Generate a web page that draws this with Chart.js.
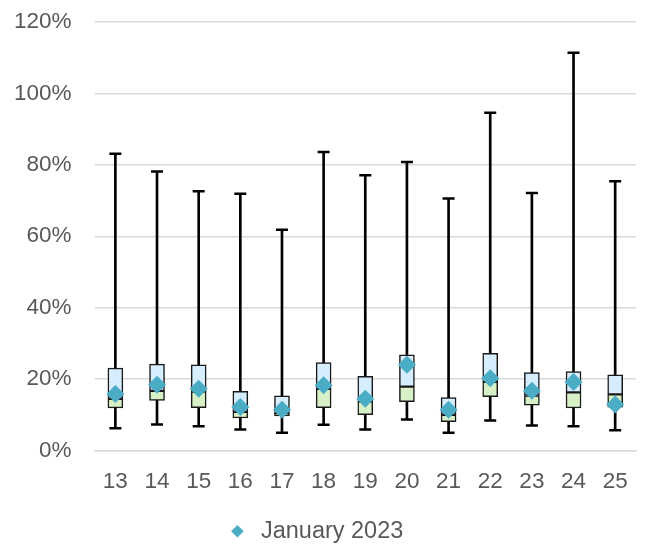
<!DOCTYPE html>
<html>
<head>
<meta charset="utf-8">
<script src="https://cdn.jsdelivr.net/npm/chart.js@4.4.1/dist/chart.umd.min.js"></script>
<style>
    html, body { margin: 0; padding: 0; background: #ffffff; }
    #wrap { width: 646px; height: 545px; }
</style>
</head>
<body>
<div id="wrap"><canvas id="boxChart"></canvas></div>
<script>
// Categories and values (percent)
const labels = ['13', '14', '15', '16', '17', '18', '19', '20', '21', '22', '23', '24', '25'];
const minVals = [6.2, 7.3, 6.8, 5.9, 5.0, 7.2, 5.9, 8.7, 5.0, 8.4, 7.0, 6.8, 5.7];
const q1Vals = [11.9, 14.0, 12.0, 9.1, 9.7, 12.0, 10.0, 13.7, 8.1, 15.1, 12.7, 11.9, 12.1];
const medianVals = [14.5, 16.7, 16.5, 10.8, 10.3, 17.3, 13.8, 17.9, 10.0, 19.2, 15.4, 16.3, 15.7];
const q3Vals = [23.1, 24.2, 24.0, 16.6, 15.3, 24.6, 20.8, 26.8, 14.8, 27.2, 21.8, 22.1, 21.2];
const maxVals = [83.1, 78.1, 72.6, 71.9, 61.8, 83.6, 77.1, 80.8, 70.6, 94.6, 72.1, 111.4, 75.4];
const jan2023 = [15.8, 18.4, 17.3, 12.2, 11.4, 18.3, 14.5, 24.0, 11.4, 20.2, 16.7, 19.2, 12.9];
const yTicks = [0, 20, 40, 60, 80, 100, 120];

const textColor = '#595959';
const gridColor = '#d9d9d9';
const fontFamily = '"Liberation Sans", Arial, sans-serif';

document.addEventListener('DOMContentLoaded', function() {
    const ctx = document.getElementById('boxChart').getContext('2d');

    new Chart(ctx, {
        type: 'bar',
        data: {
            labels: labels,
            datasets: [
                {
                    label: 'January 2023',
                    type: 'line',
                    data: jan2023,
                    showLine: false,
                    pointStyle: 'rectRot',
                    pointRadius: 9,
                    pointBackgroundColor: '#4bacc6',
                    pointBorderColor: '#4bacc6',
                    pointBorderWidth: 0,
                    backgroundColor: '#4bacc6',
                    borderColor: '#4bacc6',
                    order: 1
                },
                {
                    label: 'max',
                    type: 'line',
                    data: maxVals,
                    showLine: false,
                    pointStyle: 'line',
                    pointRadius: 6,
                    pointBorderWidth: 2.5,
                    pointBorderColor: '#000000',
                    order: 2
                },
                {
                    label: 'min',
                    type: 'line',
                    data: minVals,
                    showLine: false,
                    pointStyle: 'line',
                    pointRadius: 6,
                    pointBorderWidth: 2.5,
                    pointBorderColor: '#000000',
                    order: 2
                },
                {
                    label: 'upper',
                    data: labels.map((_, i) => [medianVals[i], q3Vals[i]]),
                    backgroundColor: '#d5edfc',
                    borderColor: '#1a1a1a',
                    borderWidth: 1.5,
                    borderSkipped: false,
                    barThickness: 15,
                    grouped: false,
                    order: 3
                },
                {
                    label: 'lower',
                    data: labels.map((_, i) => [q1Vals[i], medianVals[i]]),
                    backgroundColor: '#d8f0c5',
                    borderColor: '#1a1a1a',
                    borderWidth: 1.5,
                    borderSkipped: false,
                    barThickness: 15,
                    grouped: false,
                    order: 3
                },
                {
                    label: 'whisker',
                    data: labels.map((_, i) => [minVals[i], maxVals[i]]),
                    backgroundColor: '#000000',
                    borderWidth: 0,
                    barThickness: 2,
                    grouped: false,
                    order: 5
                }
            ]
        },
        options: {
            responsive: true,
            maintainAspectRatio: false,
            animation: false,
            layout: {
                autoPadding: false,
                padding: { top: 0, right: 8, bottom: -8, left: -9 }
            },
            plugins: {
                tooltip: { enabled: false },
                legend: {
                    position: 'bottom',
                    labels: {
                        filter: function(item) { return item.text === 'January 2023'; },
                        usePointStyle: true,
                        boxHeight: 9,
                        color: textColor,
                        padding: 0,
                        font: { family: fontFamily, size: 23.5 }
                    }
                }
            },
            scales: {
                y: {
                    min: 0,
                    max: 120,
                    afterBuildTicks: function(axis) {
                        axis.ticks = yTicks.map(v => ({ value: v }));
                    },
                    // tick padding is also added above the top label; keep the top tight
                    afterFit: function(axis) { axis.paddingTop = 22; },
                    ticks: {
                        color: textColor,
                        padding: 23,
                        font: { family: fontFamily, size: 22.5 },
                        callback: function(v) { return v + '%'; }
                    },
                    grid: { color: gridColor, lineWidth: 1.5, drawTicks: false },
                    border: { display: false }
                },
                x: {
                    afterFit: function(axis) { axis.height += 6; },
                    ticks: {
                        color: textColor,
                        padding: 18,
                        font: { family: fontFamily, size: 22.5 }
                    },
                    grid: { display: false, drawTicks: false },
                    border: { display: true, color: gridColor, width: 1.5 }
                }
            }
        }
    });
});
</script>
</body>
</html>
